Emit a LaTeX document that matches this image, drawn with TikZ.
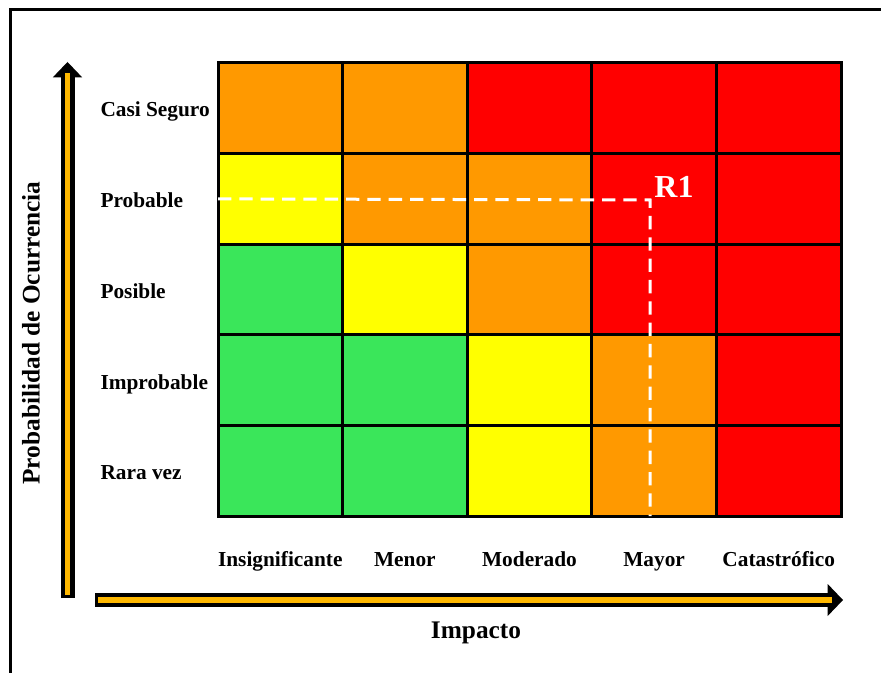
\documentclass[tikz,border=0pt]{standalone}
\usepackage{fontspec}
\setmainfont{Liberation Serif}
\usetikzlibrary{arrows.meta}

\definecolor{riskO}{RGB}{255,153,0}
\definecolor{riskR}{RGB}{255,0,0}
\definecolor{riskY}{RGB}{255,255,0}
\definecolor{riskG}{RGB}{58,230,90}
\definecolor{axisorange}{RGB}{255,184,0}

\tikzset{every picture/.style={line width=0.75pt}}
\tikzset{
  cell/.style={draw=black, line width=2.25pt, inner sep=0pt, outer sep=0pt,
    minimum width=93.45pt, minimum height=67.95pt},
  rowlabel/.style={anchor=base west, inner sep=0.75pt, font=\bfseries\fontsize{16}{19}\selectfont},
  collabel/.style={anchor=base, inner sep=0.75pt, font=\bfseries\fontsize{16}{19}\selectfont},
  axistitle/.style={inner sep=0.75pt, font=\bfseries\fontsize{19}{23}\selectfont},
  axisback/.style={draw=black, line width=10.5pt},
  axisfront/.style={draw=axisorange, line width=4pt},
  riskpath/.style={draw=white, line width=2.25pt, dash pattern=on 10pt off 6pt},
}

\begin{document}
\begin{tikzpicture}[x=0.75pt,y=0.75pt,yscale=-1,xscale=1]
\useasboundingbox (0,0) rectangle (881,673);

%Frame
\draw [line width=2.25pt] (10.5,673) -- (10.5,10) -- (881,10) ;

%Matrix cells
\foreach \colr [count=\r] in {{O,O,R,R,R},{Y,O,O,R,R},{G,Y,O,R,R},{G,G,Y,O,R},{G,G,Y,O,R}} {
  \foreach \fillc [count=\c] in \colr {
    \node [cell, fill=risk\fillc] (c\r\c) at ({218+124.6*(\c-0.5)},{63+90.6*(\r-0.5)}) {};
  }
}

%Risk R1
\coordinate (r1) at (650,200) ;
\draw [riskpath] (c21.west) -- (r1) -- (r1 |- c54.south) ;
\node [text=white, inner sep=0.75pt, font=\bfseries\fontsize{24}{28}\selectfont] (r1text) at (674,187) {R1};

% Text Node
\node [rowlabel] (lcasi) at (99,117) {Casi Seguro};
\node [rowlabel] (lprob) at (99,208) {Probable};
\node [rowlabel] (lposi) at (99,299) {Posible};
\node [rowlabel] (limpr) at (99,389) {Improbable};
\node [rowlabel] (lrara) at (99,479) {Rara vez};

\node [collabel] (linsig) at (c51.south |- 0,566) {Insignificante};
\node [collabel] (lmenor) at (c52.south |- 0,566) {Menor};
\node [collabel] (lmoder) at (c53.south |- 0,566) {Moderado};
\node [collabel] (lmayor) at (c54.south |- 0,566) {Mayor};
\node [collabel] (lcatas) at (c55.south |- 0,566) {Catastrófico};

%Axes
\coordinate (yfoot) at (67.5,598) ;
\coordinate (ytip) at (67.5,62) ;
\coordinate (xfoot) at (95,600) ;
\coordinate (xtip) at (843,600) ;
\draw [axisback, -{Triangle[width=22pt,length=11.5pt,line width=0pt 0]}] (yfoot) -- (ytip) ;
\draw [axisfront] ([yshift=-2.5pt]yfoot) -- ([yshift=8pt]ytip) ;
\draw [axisback, -{Triangle[width=24pt,length=11.5pt,line width=0pt 0]}] (xfoot) -- (xtip) ;
\draw [axisfront] ([xshift=2.5pt]xfoot) -- ([xshift=-8pt]xtip) ;

\node [axistitle, rotate=90] (ytitle) at (31,333) {Probabilidad de Ocurrencia};
\node [axistitle, anchor=base] (xtitle) at (476,638) {Impacto};

\end{tikzpicture}
\end{document}
